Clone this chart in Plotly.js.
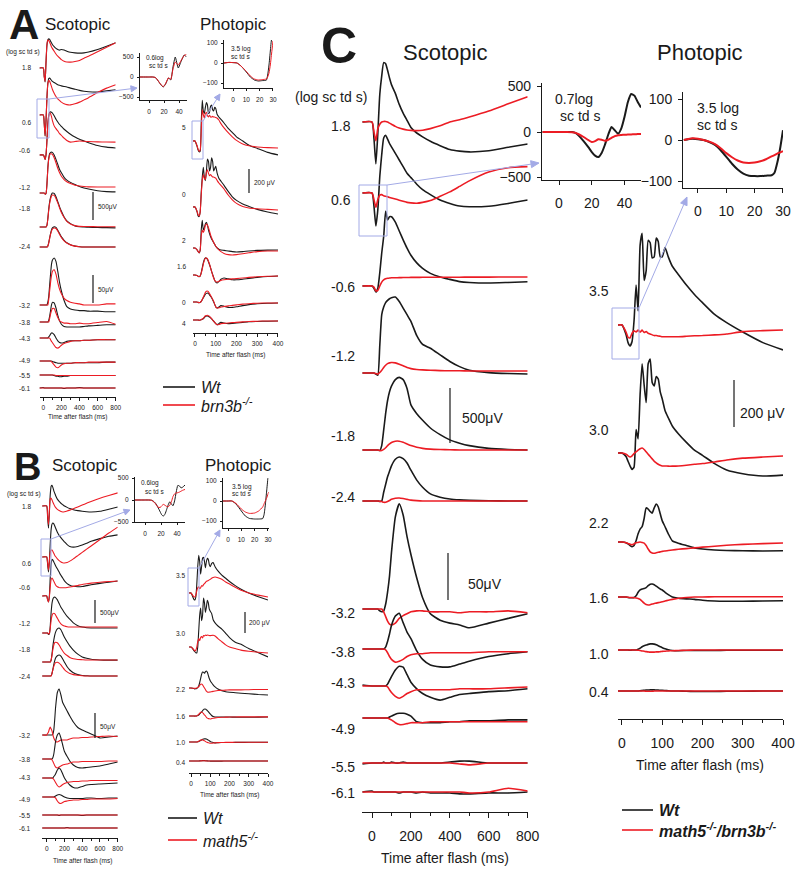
<!DOCTYPE html>
<html>
<head>
<meta charset="utf-8">
<script src="https://cdn.plot.ly/plotly-3.0.1.min.js"></script>
<style>
  html, body { margin: 0; padding: 0; background: #fff; }
  #erg { width: 800px; height: 874px; }
</style>
</head>
<body>
<div id="erg"></div>
<script>
// ---- time grids (ms) ----
var tScot = [-50, 0, 10, 20, 30, 40, 50, 60, 70, 80, 90, 100, 120, 140, 160, 180, 200, 230, 260, 300, 350, 400, 450, 500, 600, 700, 800];
var tPhot = [-10, 0, 10, 15, 20, 25, 30, 35, 40, 45, 50, 55, 60, 65, 70, 75, 80, 85, 90, 95, 100, 107, 115, 125, 140, 160, 180, 200, 230, 260, 300, 350, 400];

// ---- intensity labels (log sc td s) ----
var scotTopLevels = ['1.8', '0.6', '-0.6', '-1.2', '-1.8', '-2.4'];
var scotBotLevels = ['-3.2', '-3.8', '-4.3', '-4.9', '-5.5', '-6.1'];
var photLevels = ['3.5', '3.0', '2.2', '1.6', '1.0', '0.4'];
var aPhotLevels = ['5', '0', '2', '1.6', '0', '4'];

// ---- panel C, scotopic (uV) ----
var cScotTopWt = [
  [0,0,-150,-380,-100,250,420,540,530,470,400,340,260,160,80,15,-50,-100,-135,-175,-215,-250,-265,-272,-262,-230,-200],
  [0,0,-120,-300,-150,150,350,500,525,490,450,420,360,300,240,180,140,80,30,-15,-64,-95,-118,-125,-120,-95,-64],
  [0,0,-20,-55,-20,120,300,450,680,600,630,630,580,500,420,345,280,210,160,115,82,60,40,32,27,32,38],
  [0,0,0,-10,-20,250,530,600,640,660,675,685,690,650,590,530,470,340,260,225,165,105,58,25,3,-5,-9],
  [0,0,0,0,0,-5,40,180,330,450,530,580,640,660,640,560,410,330,270,200,140,92,62,40,15,5,0],
  [0,0,0,0,0,-3,0,80,150,220,270,320,380,400,385,345,280,190,125,65,35,18,10,6,2,0,0]
];
var cScotTopMut = [
  [0,0,-90,-170,-60,-20,0,5,5,0,-10,-20,-40,-55,-65,-72,-76,-78,-75,-60,-35,0,20,45,100,165,230],
  [0,0,-60,-130,-60,-20,-15,-25,-30,-35,-40,-45,-55,-65,-75,-85,-90,-93,-85,-68,-30,10,60,110,190,230,240],
  [0,0,-10,-45,-40,0,35,55,65,70,72,75,75,76,77,77,78,78,79,79,80,80,80,81,81,82,82],
  [0,0,0,-5,-10,5,25,50,70,85,92,95,92,80,65,50,40,32,28,25,22,20,20,18,18,18,18],
  [0,0,0,0,0,-5,-5,5,20,40,55,68,80,80,70,55,40,25,15,8,4,2,0,0,0,0,0],
  [0,0,0,0,0,-3,-5,-12,-12,-5,5,15,25,27,22,15,8,3,0,0,0,0,0,0,0,0,0]
];
var cScotBotWt = [
  [0,0,0,0,0,-2,-3,-2,5,18,35,60,98,112,100,77,58,33,12,-5,-12,-15,-17,-20,-15,-10,-5],
  [0,0,0,0,0,0,0,0,2,8,16,25,35,38,28,18,11,-2,-11,-17,-19,-19,-16,-13,-8,-5,-3],
  [1,0,0,0,0,0,0,0,0,2,6,10,17,21,20,12,4,-3,-8,-12,-15,-12,-9,-8,-6,-5,-3],
  [0,0,0,0,0,0,0,0,0,0,1,2,4,5,5,4,2,-4,-5,-5,-5,-4,-4,-3,-3,-2,-2],
  [-1,0,0,0,0,0,0,1,0,0,0,1,0,0,1,0,0,0,0,0,0,1,2,2,0,0,0],
  [0,1,0,0,0,0,0,0,0,0,0,0,0,-1,0,0,0,-1,0,-1,-1,-1,-2,-2,-1,-1,0]
];
var cScotBotMut = [
  [0,0,0,0,0,0,0,-3,-8,-13,-16,-17,-15,-10,-7,-5,-3,-2,-2,-3,-3,-3,-4,-3,-3,-2,-4],
  [0,0,0,0,0,0,0,0,-1,-4,-8,-11,-14,-13,-11,-8,-6,-5,-5,-4,-4,-4,-4,-4,-3,-3,-3],
  [0,0,0,0,0,0,0,0,0,-1,-4,-7,-11,-13,-11,-8,-6,-4,-4,-4,-4,-4,-3,-3,-3,-2,-1],
  [0,0,0,0,0,0,0,0,0,0,-1,-2,-5,-7,-7,-6,-5,-5,-5,-4,-4,-4,-4,-4,-4,-4,-4],
  [0,0,0,0,0,0,0,0,0,0,0,0,0,0,0,0,0,0,0,0,0,0,-1,-2,0,0,0],
  [0,0,0,0,0,0,0,0,0,0,0,0,0,0,0,0,0,0,0,0,0,0,0,-1,0,4,1]
];

// ---- panel C, photopic (uV) ----
var cPhotWt = [
  [0,0,-40,-75,-89,-70,20,170,60,340,390,190,230,360,350,285,290,370,355,290,290,330,290,250,215,170,130,95,45,10,-30,-75,-106],
  [0,0,-15,-35,-55,-70,-60,100,60,250,380,290,215,380,400,300,285,325,315,260,230,180,150,115,82,45,12,-10,-45,-72,-88,-98,-94],
  [0,0,-3,-8,-15,-20,-15,5,35,55,65,100,145,140,130,123,145,162,150,120,90,65,35,5,-5,-15,-25,-30,-34,-36,-37,-38,-37],
  [0,0,0,-2,-3,-3,-2,5,20,30,34,36,40,48,54,55,52,46,40,34,30,20,10,0,-5,-8,-10,-14,-17,-18,-18,-17,-16],
  [0,0,0,0,-1,0,0,0,3,8,14,18,21,24,26,26,25,22,18,14,10,5,1,-2,-3,-2,-2,-2,-2,-1,-1,-1,-1],
  [0,0,0,0,0,0,0,0,0,1,2,3,4,4,5,5,5,4,4,3,3,2,1,0,0,-1,-2,-2,-2,-1,-1,0,0]
];
var cPhotMut = [
  [0,0,-30,-52,-55,-35,-25,-30,-22,-30,-22,-32,-28,-35,-38,-42,-45,-45,-47,-48,-50,-50,-50,-50,-50,-48,-46,-45,-42,-38,-28,-24,-21],
  [0,0,-5,-12,-17,-12,-2,5,12,18,21,15,5,-5,-15,-25,-35,-42,-48,-52,-55,-55,-56,-56,-55,-52,-48,-45,-38,-30,-22,-17,-13],
  [0,0,-3,-6,-10,-12,-8,-3,-2,0,-2,-5,-15,-30,-42,-47,-48,-46,-44,-42,-40,-38,-36,-34,-31,-28,-25,-22,-18,-14,-10,-7,-4],
  [0,0,0,-1,-2,-2,-3,-4,-6,-10,-18,-26,-32,-34,-33,-30,-28,-26,-24,-22,-20,-17,-14,-10,-5,-2,0,0,1,1,1,1,1],
  [0,0,0,0,0,0,0,0,-1,-2,-4,-5,-7,-8,-9,-9,-9,-8,-8,-7,-6,-5,-4,-3,-2,-1,0,0,0,0,0,0,0],
  [0,0,0,0,0,0,0,0,0,0,0,0,-1,-1,-1,-1,0,0,0,0,0,0,0,0,0,0,0,0,0,0,0,0,0]
];

// ---- panel A, scotopic ----
var aScotTopWt = [
  [0,0,-150,-250,100,400,500,520,510,480,450,420,380,350,330,320,330,320,300,280,270,265,270,285,330,390,450],
  [0,0,-150,-380,-100,300,560,650,660,640,620,600,580,560,540,530,520,510,500,480,460,440,425,415,410,430,450],
  [0,0,-30,-80,0,250,550,700,760,770,765,750,700,640,590,545,510,460,420,370,320,280,250,220,170,140,125],
  [0,0,0,-20,-10,150,450,620,700,725,730,725,680,600,510,420,360,280,230,190,150,115,90,70,40,25,20],
  [0,0,0,0,0,30,150,320,450,530,580,605,600,540,450,360,280,180,110,60,20,5,0,-5,-10,-12,-15],
  [0,0,0,0,0,0,20,80,160,240,300,340,360,350,300,240,180,120,75,40,15,5,0,0,0,0,0]
];
var aScotTopMut = [
  [0,0,-150,-240,100,420,500,490,460,420,380,350,300,250,210,180,150,120,107,105,115,135,175,210,290,370,450],
  [0,0,-150,-370,-100,300,560,620,600,560,510,460,390,330,290,260,230,200,185,180,200,230,270,310,400,480,540],
  [0,0,-30,-80,0,250,560,700,750,740,690,620,520,470,430,380,350,300,260,230,240,250,245,240,235,232,230],
  [0,0,0,-20,-10,150,430,600,680,700,700,690,630,540,440,360,300,240,200,170,140,125,115,110,108,107,107],
  [0,0,0,0,0,30,140,300,420,500,550,570,565,510,430,340,260,170,100,55,25,12,10,10,5,5,5],
  [0,0,0,0,0,0,15,70,150,225,280,320,340,330,285,225,170,110,70,38,15,5,0,0,0,0,0]
];
var aScotBotWt = [
  [0,0,0,0,0,0,5,15,35,55,72,80,84,78,60,40,25,8,-3,-7,-9,-10,-10,-11,-11,-12,-12],
  [0,0,0,0,0,0,0,3,10,20,30,35,34,25,12,2,-4,-8,-9,-9,-9,-9,-8,-7,-6,-5,-5],
  [0,0,0,0,0,0,0,2,4,7,9,9,6,0,-5,-8,-9,-8,-6,-5,-5,-5,-4,-4,-3,-3,-3],
  [0,0,0,0,0,0,0,0,0,0,0,-1,-2,-3,-4,-4,-4,-4,-4,-4,-3,-3,-3,-3,-3,-2,-2],
  [0,0,0,0,0,0,0,0,0,0,0,0,-1,-2,-2,-3,-3,-2,-2,-1,-1,-1,-1,-1,-1,-1,-1],
  [0,1,0,0,0,0,0,0,0,0,0,0,0,0,0,0,0,-1,0,0,0,1,0,0,0,0,0]
];
var aScotBotMut = [
  [0,0,0,0,0,0,0,10,25,40,52,60,63,55,40,28,20,12,8,5,3,2,0,0,0,2,2],
  [0,0,0,0,0,0,0,0,6,14,20,24,24,16,8,2,0,-2,-2,-3,-3,-2,-3,-3,-1,1,-4],
  [0,0,0,0,0,0,0,0,0,-3,-6,-8,-13,-17,-18,-16,-13,-10,-8,-6,-5,-5,-4,-4,-3,-3,-3],
  [0,0,0,0,0,0,0,0,0,0,-1,-3,-7,-11,-12,-10,-7,-5,-4,-4,-3,-3,-3,-2,-2,-2,-2],
  [0,0,0,0,0,0,0,0,0,0,0,0,0,-1,-1,-1,-1,-1,-1,-1,-1,-1,-1,-1,-1,-1,-1],
  [0,0,0,0,0,0,0,0,0,0,0,0,0,0,0,0,0,0,0,0,0,0,0,0,0,0,0]
];

// ---- panel A, photopic ----
var aPhotWt = [
  [0,0,-45,-75,-90,-85,150,340,250,230,280,320,300,230,240,290,300,260,250,280,270,220,200,180,150,105,70,35,0,-35,-62,-95,-116],
  [0,0,-40,-75,-80,-40,120,250,330,250,220,300,400,380,300,330,410,380,300,320,340,280,240,215,180,130,85,55,25,5,-20,-42,-58],
  [0,0,-15,-30,-42,-20,150,230,150,170,200,215,190,150,120,95,75,60,45,30,15,0,-10,-17,-20,-25,-30,-33,-30,-25,-20,-18,-17],
  [0,0,-5,-10,-15,-10,20,60,100,130,142,140,130,110,85,60,30,5,-20,-45,-60,-67,-55,-35,-25,-32,-40,-40,-35,-28,-20,-12,-8],
  [0,0,0,-3,-5,-3,5,20,35,50,65,72,75,70,60,48,35,18,0,-20,-40,-50,-42,-30,-35,-45,-45,-40,-30,-22,-15,-10,-8],
  [0,0,0,0,-2,0,3,6,10,20,28,33,33,30,25,18,10,0,-10,-20,-30,-40,-30,-20,-25,-30,-28,-25,-20,-15,-12,-10,-8]
];
var aPhotMut = [
  [0,0,-40,-70,-85,-75,80,260,220,190,230,240,210,200,215,200,200,205,200,200,195,190,175,145,110,70,35,5,-25,-40,-50,-55,-58],
  [0,0,-35,-65,-75,-40,100,220,270,240,230,290,310,280,260,270,260,250,250,245,240,220,200,180,150,100,60,30,5,-8,-15,-20,-25],
  [0,0,-15,-30,-40,-15,100,150,130,150,190,200,190,170,140,110,85,65,45,30,15,0,-15,-30,-45,-55,-58,-55,-48,-40,-30,-25,-25],
  [0,0,-5,-10,-12,-8,15,50,90,120,140,142,135,115,90,60,30,0,-25,-45,-55,-58,-52,-45,-40,-35,-32,-30,-25,-20,-15,-10,-8],
  [0,0,0,-3,-5,-3,5,20,40,60,80,90,92,85,70,55,40,22,5,-20,-40,-50,-48,-42,-38,-32,-28,-24,-18,-14,-10,-8,-8],
  [0,0,0,0,-2,0,3,8,15,25,35,38,40,36,30,22,12,0,-10,-20,-30,-40,-38,-30,-28,-25,-22,-20,-16,-13,-10,-8,-8]
];

// ---- panel B, scotopic ----
var bScotTopWt = [
  [0,0,-250,-480,-150,250,430,450,400,330,280,230,150,100,60,30,0,-30,-55,-80,-100,-115,-125,-130,-115,-70,-22],
  [0,0,-150,-325,-100,300,600,720,740,720,680,630,540,470,420,370,330,270,230,215,230,260,300,340,400,450,480],
  [0,0,-80,-130,0,400,700,800,780,740,700,660,590,520,450,390,330,270,235,210,200,205,225,245,275,300,325],
  [0,0,0,-30,-20,150,450,650,740,775,780,770,720,640,560,500,440,360,300,220,160,130,115,110,108,108,108],
  [0,0,0,0,0,0,40,180,350,480,580,650,720,740,700,620,540,440,350,260,170,110,80,60,45,40,40],
  [0,0,0,0,0,0,10,60,150,250,330,390,440,455,430,370,300,200,130,70,30,10,5,0,0,0,0]
];
var bScotTopMut = [
  [0,0,-200,-400,-100,160,170,130,80,40,0,-30,-75,-100,-120,-130,-125,-110,-90,-60,-20,20,60,100,170,230,285],
  [0,0,-120,-280,-80,100,150,150,120,80,40,10,-40,-80,-110,-125,-130,-120,-90,-40,30,100,170,240,380,520,650],
  [0,0,-80,-130,-20,200,360,390,360,320,280,240,200,185,180,180,180,185,195,210,230,250,265,280,300,315,325],
  [0,0,0,-20,-10,100,280,380,420,430,420,390,320,250,200,170,150,135,130,130,130,130,130,130,130,130,130],
  [0,0,0,0,0,0,40,150,280,370,420,430,420,370,300,240,190,140,100,70,55,50,45,45,45,45,45],
  [0,0,0,0,0,0,0,60,140,210,260,290,300,280,240,190,140,90,55,30,15,5,0,0,0,0,0]
];
var bScotBotWt = [
  [0,0,0,0,0,0,0,0,2,10,30,55,85,92,80,65,58,48,38,26,15,10,6,2,-6,-4,-2],
  [0,0,0,0,0,0,0,0,3,10,22,35,48,52,42,28,15,5,-4,-12,-17,-18,-17,-16,-14,-10,-6],
  [0,0,0,0,0,0,0,0,0,3,5,8,16,20,16,8,0,-8,-14,-19,-20,-17,-14,-13,-12,-11,-10],
  [0,0,0,0,0,0,0,0,0,0,1,2,4,5,4,2,0,-2,-3,-3,-3,-3,-2,-2,-3,-2,-2],
  [0,0,0,0,0,0,0,0,0,0,0,0,0,-1,0,0,0,0,0,0,0,-1,0,0,0,0,0],
  [0,0,0,0,0,0,0,0,0,0,0,0,0,0,0,0,0,1,0,0,0,0,0,0,0,0,0]
];
var bScotBotMut = [
  [0,0,3,6,12,16,12,8,0,-6,-10,-13,-14,-12,-10,-10,-10,-10,-8,-6,-6,-5,-5,-4,-3,-2,-3],
  [0,0,0,0,0,0,0,-2,-5,-9,-13,-16,-18,-16,-14,-12,-11,-10,-8,-6,-6,-5,-5,-5,-5,-4,-4],
  [0,0,0,0,0,0,0,0,-1,-3,-6,-9,-15,-18,-16,-13,-11,-9,-8,-7,-7,-6,-6,-5,-5,-5,-5],
  [0,0,0,0,0,0,0,0,0,0,-1,-2,-8,-12,-13,-11,-9,-8,-7,-6,-6,-5,-5,-4,-4,-4,-3],
  [0,0,0,0,0,0,0,0,0,0,0,0,0,0,0,0,0,0,0,0,0,0,0,0,0,0,0],
  [0,0,0,0,0,0,0,0,0,0,0,0,0,0,0,0,0,0,0,0,0,0,0,0,0,0,0]
];

// ---- panel B, photopic ----
var bPhotWt = [
  [0,0,-40,-60,-67,-40,80,250,360,300,180,250,330,340,300,240,300,330,320,270,250,280,290,250,210,170,140,110,70,35,0,-35,-67],
  [0,0,-20,-35,-45,-55,-57,0,150,300,370,250,300,465,420,330,380,445,420,360,340,320,260,230,200,170,130,90,45,25,-15,-55,-95],
  [0,0,-3,-5,-8,-6,-5,5,20,50,90,130,152,150,140,155,162,150,120,90,70,50,30,10,-10,-25,-35,-40,-45,-50,-55,-62,-67],
  [0,0,0,0,-1,0,0,5,10,20,30,40,50,60,66,66,60,52,42,30,20,5,-5,-10,-10,-10,-10,-10,-11,-12,-12,-11,-10],
  [0,0,0,0,0,0,0,2,5,10,15,20,25,28,30,30,28,23,18,12,5,0,-5,-8,-6,-5,-5,-5,-4,-4,-3,-3,-3],
  [0,0,0,0,0,0,0,0,0,1,2,3,4,4,4,3,2,1,0,0,-1,-1,-1,-1,-1,-1,0,0,0,0,0,0,0]
];
var bPhotMut = [
  [0,0,-25,-35,-38,-20,20,50,60,40,50,70,65,80,90,100,110,115,120,125,130,140,148,152,145,130,105,85,55,25,0,-20,-38],
  [0,0,-15,-28,-38,-30,0,50,80,60,90,100,85,110,105,114,110,114,112,110,108,110,112,105,80,50,20,0,-15,-30,-40,-50,-57],
  [0,0,-2,-3,-4,-2,0,5,10,25,35,38,30,15,0,-15,-30,-38,-40,-39,-38,-35,-32,-28,-24,-22,-20,-18,-18,-18,-16,-14,-14],
  [0,0,0,0,-1,0,0,8,15,25,35,38,32,22,10,0,-12,-20,-25,-27,-28,-25,-22,-18,-14,-12,-11,-10,-9,-8,-8,-8,-8],
  [0,0,0,0,0,0,0,3,8,13,18,20,20,16,12,6,0,-4,-8,-10,-12,-12,-10,-8,-6,-5,-4,-4,-3,-3,-2,-2,-2],
  [0,0,0,0,0,0,0,0,0,0,1,1,2,2,2,1,0,0,0,0,0,0,0,0,0,0,0,0,0,0,0,0,0]
];

// ---- zoomed insets (first 50 / 30 ms) ----
var cInsT = [-10,0,5,8,10,12,15,18,20,22,24,26,28,30,32,34,36,38,40,42,44,46,48,50];
var cInsWt = [0,0,0,0,-10,-40,-100,-170,-220,-260,-275,-230,-140,-30,55,20,-20,40,170,330,418,400,330,270];
var cInsMut = [0,0,0,-3,-10,-25,-55,-90,-110,-100,-80,-85,-97,-85,-65,-45,-35,-32,-30,-28,-27,-25,-23,-22];
var cInsPT = [-5,-2,0,2,4,6,8,10,12,14,16,18,20,22,24,26,27,28,29,30];
var cInsPWt = [0,3,2,0,-5,-12,-25,-41,-58,-72,-82,-87,-88,-88,-87,-86,-80,-55,-20,24];
var cInsPMut = [0,4,3,0,-4,-10,-20,-32,-42,-50,-55,-56,-55,-52,-47,-40,-37,-33,-30,-27];

var aInsT = [-12,-5,0,5,8,10,13,16,19,22,26,29,32,35,39,43,47,50];
var aInsWt = [0,0,0,0,-10,-40,-120,-200,-250,-180,-25,-75,250,500,225,400,550,500];
var aInsMut = [0,0,0,0,-10,-40,-115,-190,-240,-170,-20,-60,200,375,300,420,540,560];
var aInsPT = [-6.75,-3,0,3,6,10,13,16,19,22,25,26,27,28,29,30];
var aInsPWt = [0,3,2,0,-15,-45,-70,-85,-90,-88,-86,-60,-10,60,120,130];
var aInsPMut = [0,3,2,0,-15,-42,-65,-80,-85,-83,-80,-70,-50,-10,50,110];

var bInsT = [-12.5,-5,0,5,8,10,13,16,19,21,23,25,27,29,31,33,35,37,39,41,43,45,47,50];
var bInsWt = [0,0,0,0,-5,-20,-70,-160,-270,-340,-365,-320,-220,-110,-40,-90,-130,-20,180,330,320,275,290,340];
var bInsMut = [0,0,0,0,-5,-30,-80,-160,-170,-130,-100,-120,-145,-150,-120,-40,80,140,160,165,180,200,220,240];
var bInsPT = [-3.75,0,3,6,10,13,16,20,23,26,27,28,29,30,30.5];
var bInsPWt = [0,0,0,-15,-50,-75,-87,-90,-90,-88,-70,-20,50,115,130];
var bInsPMut = [0,0,0,-12,-40,-55,-62,-60,-50,-30,-15,0,15,35,45];

// ---------------------------------------------------------------
var W = 800, H = 874;
var FONT = '"Liberation Sans", Arial, Helvetica, sans-serif';
var INK = '#1a1a1a';
var RED = '#ec1c24';
var BLUE = '#a3aae6';

function fx(px) { return px / W; }
function fy(py) { return 1 - py / H; }

var layout = {
  width: W, height: H,
  margin: { l: 0, r: 0, t: 0, b: 0 },
  showlegend: false,
  paper_bgcolor: '#fff',
  plot_bgcolor: 'rgba(0,0,0,0)',
  font: { family: FONT, color: INK },
  annotations: [],
  shapes: []
};
var traces = [];
var nAxes = 0;

// subplot with a fixed mapping: x0/y0 = pixel of value 0, kx/ky = pixels per unit
function addPlot(m, axX, axY) {
  nAxes += 1;
  var n = nAxes === 1 ? '' : String(nAxes);
  layout['xaxis' + n] = Object.assign({
    domain: [fx(m.x0 + m.kx * m.xr[0]), fx(m.x0 + m.kx * m.xr[1])],
    range: m.xr, anchor: 'y' + n, showgrid: false, zeroline: false, fixedrange: true
  }, axX);
  layout['yaxis' + n] = Object.assign({
    domain: [fy(m.y0 - m.ky * m.yr[0]), fy(m.y0 - m.ky * m.yr[1])],
    range: m.yr, anchor: 'x' + n, showgrid: false, zeroline: false, fixedrange: true
  }, axY);
  return { x: 'x' + n, y: 'y' + n, m: m };
}

function timeAxis(size, dtick, minor, posPx, tlen, standoff) {
  return {
    anchor: 'free', position: fy(posPx),
    showline: true, linecolor: INK, linewidth: 1,
    ticks: 'outside', ticklen: tlen, tickwidth: 1, tickcolor: INK,
    tick0: 0, dtick: dtick,
    minor: { dtick: minor, ticks: 'outside', ticklen: tlen * 0.6, tickwidth: 1, tickcolor: INK },
    tickfont: { size: size, color: INK }, ticklabelstandoff: standoff
  };
}
function insetAxis(size, vals, tlen, standoff) {
  return {
    showline: true, linecolor: INK, linewidth: 1,
    ticks: 'outside', ticklen: tlen, tickwidth: 1, tickcolor: INK,
    tickvals: vals, tickfont: { size: size, color: INK }, ticklabelstandoff: standoff
  };
}
var hidden = { visible: false };

function line(p, t, y, color, lw) {
  traces.push({
    type: 'scatter', mode: 'lines', x: t, y: y, xaxis: p.x, yaxis: p.y,
    line: { color: color, width: lw, shape: 'spline', smoothing: 0.5 }, hoverinfo: 'skip'
  });
}
// stacked traces: each row is shifted so that its baseline sits on the given pixel row
function addStack(p, t, rowsPx, wt, mut, lw) {
  rowsPx.forEach(function (rowPx, i) {
    var off = (p.m.y0 - rowPx) / p.m.ky;
    line(p, t, wt[i].map(function (v) { return v + off; }), INK, lw);
    line(p, t, mut[i].map(function (v) { return v + off; }), RED, lw);
  });
}

function note(text, xpx, ypx, size, extra) {
  layout.annotations.push(Object.assign({
    text: text, xref: 'paper', yref: 'paper', x: fx(xpx), y: fy(ypx),
    xanchor: 'left', yanchor: 'middle', showarrow: false,
    font: { size: size, color: INK, family: FONT }
  }, extra || {}));
}
function labels(list, xpx, ysPx, size, anchor) {
  list.forEach(function (txt, i) { note(txt, xpx, ysPx[i], size, { xanchor: anchor }); });
}
function scaleBar(p, xPx, yBotPx, len, text, size, lx, ly) {
  var xv = (xPx - p.m.x0) / p.m.kx;
  var yv = (p.m.y0 - yBotPx) / p.m.ky;
  layout.shapes.push({ type: 'line', xref: p.x, yref: p.y, x0: xv, x1: xv, y0: yv, y1: yv + len,
    line: { color: INK, width: 1.2 } });
  note(text, lx, ly, size);
}
// blue zoom box plus a thin arrow (line + filled head) pointing at the inset
function zoomBox(x0, y0, x1, y1, headX, headY, headLen, headHalf) {
  layout.shapes.push({ type: 'rect', xref: 'paper', yref: 'paper',
    x0: fx(x0), x1: fx(x1), y0: fy(y1), y1: fy(y0), line: { color: BLUE, width: 1 } });
  var dx = headX - x1, dy = headY - y0, len = Math.sqrt(dx * dx + dy * dy);
  var ux = dx / len, uy = dy / len;
  var bx = headX - ux * headLen, by = headY - uy * headLen;
  layout.shapes.push({ type: 'line', xref: 'paper', yref: 'paper',
    x0: fx(x1), y0: fy(y0), x1: fx(bx), y1: fy(by), line: { color: BLUE, width: 1 } });
  var p1 = [bx - uy * headHalf, by + ux * headHalf], p2 = [bx + uy * headHalf, by - ux * headHalf];
  layout.shapes.push({ type: 'path', xref: 'paper', yref: 'paper',
    path: 'M' + fx(headX) + ',' + fy(headY) + ' L' + fx(p1[0]) + ',' + fy(p1[1]) +
          ' L' + fx(p2[0]) + ',' + fy(p2[1]) + ' Z',
    fillcolor: BLUE, line: { color: BLUE, width: 1 } });
}
function legend(x0, x1, yWt, yMut, mutText, size, bold) {
  var open = bold ? '<b><i>' : '<i>', close = bold ? '</i></b>' : '</i>';
  layout.shapes.push({ type: 'line', xref: 'paper', yref: 'paper', x0: fx(x0), x1: fx(x1), y0: fy(yWt), y1: fy(yWt), line: { color: INK, width: 1.6 } });
  layout.shapes.push({ type: 'line', xref: 'paper', yref: 'paper', x0: fx(x0), x1: fx(x1), y0: fy(yMut), y1: fy(yMut), line: { color: RED, width: 1.6 } });
  note(open + 'Wt' + close, x1 + 4, yWt, size);
  note(open + mutText + close, x1 + 4, yMut, size);
}

// ================= panel C =================
var cMapS = { x0: 372, kx: 0.1946, xr: [-50, 800] };
var cScotTop = addPlot(Object.assign({ y0: 501, ky: 0.11, yr: [-100, 4200] }, cMapS), hidden, hidden);
var cScotBot = addPlot(Object.assign({ y0: 792, ky: 0.94, yr: [-15, 320] }, cMapS),
  timeAxis(14, 200, 100, 812, 5, 6), hidden);
var cPhot = addPlot({ x0: 622, kx: 0.4025, xr: [-10, 400], y0: 691, ky: 0.235, yr: [-60, 1990] },
  timeAxis(14, 100, 50, 719, 5, 6), hidden);
var cInsS = addPlot({ x0: 559, kx: 1.64, xr: [-10.4, 50], y0: 132, ky: 0.091, yr: [-527, 538] },
  insetAxis(14, [0, 20, 40], 4, 6), insetAxis(14, [-500, 0, 500], 4, 3));
var cInsP = addPlot({ x0: 698, kx: 2.833, xr: [-5.3, 30], y0: 140, ky: 0.41, yr: [-117, 117] },
  insetAxis(14, [0, 10, 20, 30], 4, 6), insetAxis(14, [-100, 0, 100], 4, 3));

addStack(cScotTop, tScot, [122, 193, 286, 373, 450, 501], cScotTopWt, cScotTopMut, 1.6);
addStack(cScotBot, tScot, [609, 649, 686, 718, 763, 792], cScotBotWt, cScotBotMut, 1.6);
addStack(cPhot, tPhot, [325, 453, 542, 597, 650, 691], cPhotWt, cPhotMut, 1.6);
line(cInsS, cInsT, cInsWt, INK, 2); line(cInsS, cInsT, cInsMut, RED, 2);
line(cInsP, cInsPT, cInsPWt, INK, 2); line(cInsP, cInsPT, cInsPMut, RED, 2);

note('<b>C</b>', 339, 46, 50, { xanchor: 'center' });
note('Scotopic', 445, 52, 22, { xanchor: 'center' });
note('Photopic', 700, 52, 22, { xanchor: 'center' });
note('(log sc td s)', 331, 97, 14, { xanchor: 'center' });
labels(scotTopLevels, 329, [126, 200, 287, 356, 436, 497], 14, 'left');
labels(scotBotLevels, 329, [613, 652, 683, 729, 767, 793], 14, 'left');
labels(photLevels, 587, [291, 430, 523, 598, 654, 692], 14, 'left');
note('Time after flash (ms)', 445, 858, 14, { xanchor: 'center' });
note('Time after flash (ms)', 700, 765, 14, { xanchor: 'center' });
scaleBar(cScotTop, 450, 443, 500, '500μV', 14, 460, 418);
scaleBar(cScotBot, 448, 600, 50, '50μV', 14, 466, 584);
scaleBar(cPhot, 734, 427, 200, '200 μV', 14, 738, 413);
note('0.7log', 553, 99, 14); note('sc td s', 558, 116, 14);
note('3.5 log', 695, 108, 14); note('sc td s', 695, 125, 14);
zoomBox(359, 185, 387, 236, 539, 163, 8, 3.5);
zoomBox(612, 308, 639, 359, 687, 197, 8, 3.5);
legend(622, 653, 810, 830, 'math5<sup>-/-</sup>/brn3b<sup>-/-</sup>', 16, true);

// ================= panel A =================
var aMapS = { x0: 43.3, kx: 0.0905, xr: [-40, 800] };
var aScotTop = addPlot(Object.assign({ y0: 247, ky: 0.056, yr: [-90, 3790] }, aMapS), hidden, hidden);
var aScotBot = addPlot(Object.assign({ y0: 388, ky: 0.56, yr: [-12, 243] }, aMapS),
  timeAxis(6.5, 200, 100, 397, 2.5, 2), hidden);
var aPhot = addPlot({ x0: 195, kx: 0.2075, xr: [-10, 400], y0: 320, ky: 0.12, yr: [-83, 1917] },
  timeAxis(6.5, 100, 50, 333, 2.5, 2), hidden);
var aInsS = addPlot({ x0: 149, kx: 0.75, xr: [-12, 50], y0: 77, ky: 0.04, yr: [-575, 600] },
  insetAxis(6.5, [0, 20, 40], 2, 3), insetAxis(6.5, [-500, 0, 500], 2, 2));
var aInsP = addPlot({ x0: 233, kx: 1.333, xr: [-6.75, 30], y0: 63, ky: 0.2, yr: [-125, 115] },
  insetAxis(6.5, [0, 10, 20, 30], 2, 3), insetAxis(6.5, [-100, 0, 100], 2, 2));

addStack(aScotTop, tScot, [68, 115, 155, 193, 227, 247], aScotTopWt, aScotTopMut, 1.1);
addStack(aScotBot, tScot, [305, 322, 338, 361, 375, 388], aScotBotWt, aScotBotMut, 1.1);
addStack(aPhot, tPhot, [141, 207, 248, 275, 302, 320], aPhotWt, aPhotMut, 1.1);
line(aInsS, aInsT, aInsWt, INK, 1); line(aInsS, aInsT, aInsMut, RED, 1);
line(aInsP, aInsPT, aInsPWt, INK, 1); line(aInsP, aInsPT, aInsPMut, RED, 1);

note('<b>A</b>', 24, 25, 42, { xanchor: 'center' });
note('Scotopic', 78, 24, 17, { xanchor: 'center' });
note('Photopic', 233, 24, 17, { xanchor: 'center' });
note('(log sc td s)', 22.5, 52, 6.5, { xanchor: 'center' });
labels(scotTopLevels, 33, [67, 122, 150, 188, 208, 247], 6.5, 'right');
labels(scotBotLevels, 33, [305, 322, 338, 360, 375, 388], 6.5, 'right');
labels(aPhotLevels, 188, [127, 194, 240, 266, 303, 323], 6.5, 'right');
note('Time after flash (ms)', 77.5, 417, 6.5, { xanchor: 'center' });
note('Time after flash (ms)', 235, 355, 6.5, { xanchor: 'center' });
scaleBar(aScotTop, 93, 220, 500, '500μV', 6.5, 96, 207);
scaleBar(aScotBot, 93, 303, 50, '50μV', 6.5, 96, 290);
scaleBar(aPhot, 249, 193, 200, '200 μV', 6.5, 252, 183);
note('0.6log', 144, 58, 6.5); note('sc td s', 147, 65, 6.5);
note('3.5 log', 229, 49, 6.5); note('sc td s', 229, 57, 6.5);
zoomBox(37, 99, 49, 138, 137, 88, 6, 3);
zoomBox(192, 121, 203, 159, 220, 94, 6, 3);
legend(163, 195, 387, 405, 'brn3b<sup>-/-</sup>', 16, false);

// ================= panel B =================
var bMapS = { x0: 46.7, kx: 0.0888, xr: [-56, 800] };
var bScotTop = addPlot(Object.assign({ y0: 676, ky: 0.046, yr: [-130, 4304] }, bMapS), hidden, hidden);
var bScotBot = addPlot(Object.assign({ y0: 828, ky: 0.5, yr: [-14, 286] }, bMapS),
  timeAxis(6.5, 200, 100, 838, 2.5, 2), hidden);
var bPhot = addPlot({ x0: 191, kx: 0.1925, xr: [-10, 400], y0: 761, ky: 0.105, yr: [-86, 2010] },
  timeAxis(6.5, 100, 50, 773, 2.5, 2), hidden);
var bInsS = addPlot({ x0: 145, kx: 0.8, xr: [-12.5, 50], y0: 500, ky: 0.044, yr: [-500, 530] },
  insetAxis(6.5, [0, 20, 40], 2, 3), insetAxis(6.5, [-500, 0, 500], 2, 2));
var bInsP = addPlot({ x0: 228, kx: 1.333, xr: [-3.75, 30.5], y0: 501, ky: 0.2, yr: [-135, 115] },
  insetAxis(6.5, [0, 10, 20, 30], 2, 3), insetAxis(6.5, [-100, 0, 100], 2, 2));

addStack(bScotTop, tScot, [506, 557, 596, 633, 662, 676], bScotTopWt, bScotTopMut, 1.1);
addStack(bScotBot, tScot, [735, 759, 778, 797, 815, 828], bScotBotWt, bScotBotMut, 1.1);
addStack(bPhot, tPhot, [593, 647, 688, 716, 742, 761], bPhotWt, bPhotMut, 1.1);
line(bInsS, bInsT, bInsWt, INK, 1); line(bInsS, bInsT, bInsMut, RED, 1);
line(bInsP, bInsPT, bInsPWt, INK, 1); line(bInsP, bInsPT, bInsPMut, RED, 1);

note('<b>B</b>', 27, 467, 38, { xanchor: 'center' });
note('Scotopic', 85, 465, 17, { xanchor: 'center' });
note('Photopic', 238, 465, 17, { xanchor: 'center' });
note('(log sc td s)', 24, 494, 6.5, { xanchor: 'center' });
labels(scotTopLevels, 33, [506, 563, 587, 623, 649, 676], 6.5, 'right');
labels(scotBotLevels, 33, [735, 759, 777, 799, 815, 828], 6.5, 'right');
labels(photLevels, 187, [575, 633, 689, 716, 742, 762], 6.5, 'right');
note('Time after flash (ms)', 82, 861, 6.5, { xanchor: 'center' });
note('Time after flash (ms)', 229, 795, 6.5, { xanchor: 'center' });
scaleBar(bScotTop, 95, 623, 500, '500μV', 6.5, 98, 613);
scaleBar(bScotBot, 95, 738, 50, '50μV', 6.5, 98, 727);
scaleBar(bPhot, 245, 633, 200, '200 μV', 6.5, 247, 623);
note('0.6log', 139, 483, 6.5); note('sc td s', 143, 491, 6.5);
note('3.5 log', 230, 487, 6.5); note('sc td s', 230, 494, 6.5);
zoomBox(41, 539, 51, 576, 130, 510, 6, 3);
zoomBox(188, 568, 199, 606, 220, 530, 6, 3);
legend(168, 197, 818, 840, 'math5<sup>-/-</sup>', 16, false);

Plotly.newPlot('erg', traces, layout, { staticPlot: true, displayModeBar: false });
</script>
</body>
</html>
